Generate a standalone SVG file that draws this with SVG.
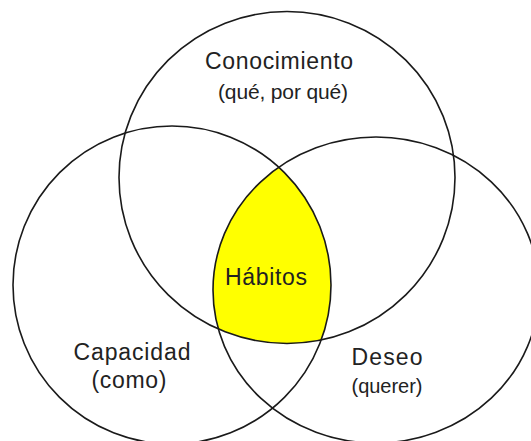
<svg xmlns="http://www.w3.org/2000/svg" width="531" height="441" viewBox="0 0 531 441">
  <style>
    .ring { fill: none; stroke: #1a1a1a; stroke-width: 1.6; }
    .lbl { font-family: "Liberation Sans", Arial, sans-serif; fill: #222; text-anchor: middle; }
  </style>
  <defs>
    <clipPath id="clipLeft"><circle cx="172" cy="285" r="159"/></clipPath>
    <clipPath id="clipTop"><ellipse cx="287" cy="177.5" rx="168" ry="166"/></clipPath>
  </defs>
  <rect width="531" height="441" fill="#ffffff"/>
  <g id="habitos">
    <g clip-path="url(#clipLeft)">
      <g clip-path="url(#clipTop)">
        <ellipse cx="376" cy="290" rx="163" ry="153" fill="#ffff00"/>
      </g>
    </g>
  </g>
  <g id="connectors"></g>
  <g id="conocimiento">
    <ellipse class="ring" cx="287" cy="177.5" rx="168" ry="166"/>
    <text class="lbl" x="279" y="69" font-size="23" textLength="148">Conocimiento</text>
    <text class="lbl" x="283" y="99" font-size="21" textLength="130">(qué, por qué)</text>
  </g>
  <g id="capacidad">
    <circle class="ring" cx="172" cy="285" r="159"/>
    <text class="lbl" x="132" y="360" font-size="23" textLength="117">Capacidad</text>
    <text class="lbl" x="129" y="388" font-size="23" textLength="75">(como)</text>
  </g>
  <g id="deseo">
    <ellipse class="ring" cx="376" cy="290" rx="163" ry="153"/>
    <text class="lbl" x="387" y="365" font-size="23" textLength="71">Deseo</text>
    <text class="lbl" x="387" y="393" font-size="20" textLength="71">(querer)</text>
  </g>
  <g id="habitos-label">
    <text class="lbl" x="266" y="285" font-size="23" textLength="82">Hábitos</text>
  </g>
</svg>
